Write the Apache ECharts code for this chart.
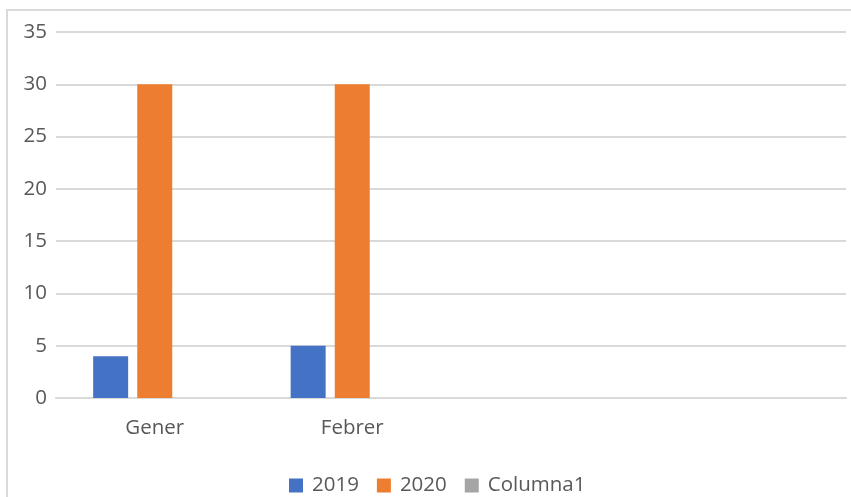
<!DOCTYPE html>
<html>
<head>
<meta charset="utf-8">
<script src="https://cdn.jsdelivr.net/npm/echarts@6/dist/echarts.min.js"></script>
<style>
  html, body { margin: 0; padding: 0; background: #fff; }
  #chart { width: 851px; height: 497px; }
</style>
</head>
<body>
<div id="chart"></div>
<script>
// Monthly counts, two years plus an empty spare column
const categories = ['Gener', 'Febrer', '', ''];
const values2019 = [4, 5, null, null];
const values2020 = [30, 30, null, null];
const valuesColumna1 = [null, null, null, null];
const yTicks = { min: 0, max: 35, interval: 5 };

const labelFont = { fontFamily: 'Open Sans', fontSize: 20.5, color: '#595959' };

const chart = echarts.init(document.getElementById('chart'), null, { renderer: 'canvas' });
chart.setOption({
  animation: false,
  backgroundColor: '#fff',
  graphic: [{
    type: 'rect',
    shape: { x: 7, y: 10, width: 900, height: 600 },
    style: { fill: 'none', stroke: '#d9d9d9', lineWidth: 2 },
    silent: true
  }],
  grid: { left: 56, right: 5, top: 32, bottom: 99 },
  legend: {
    top: 470,
    left: 284,
    icon: 'rect',
    itemWidth: 14,
    itemHeight: 14,
    itemGap: 18,
    textStyle: Object.assign({ padding: [0, 0, 0, 4] }, labelFont),
    data: ['2019', '2020', 'Columna1']
  },
  xAxis: {
    type: 'category',
    data: categories,
    axisLine: { lineStyle: { color: '#d9d9d9', width: 2 } },
    axisTick: { show: false },
    axisLabel: Object.assign({ margin: 20 }, labelFont)
  },
  yAxis: {
    type: 'value',
    min: yTicks.min,
    max: yTicks.max,
    interval: yTicks.interval,
    axisLine: { show: false },
    axisTick: { show: false },
    splitLine: { lineStyle: { color: '#d9d9d9', width: 2 } },
    axisLabel: Object.assign({ margin: 9 }, labelFont)
  },
  series: [
    { name: '2019', type: 'bar', data: values2019, barWidth: 35, barGap: '26%', itemStyle: { color: '#4472C4' } },
    { name: '2020', type: 'bar', data: values2020, barWidth: 35, barGap: '26%', itemStyle: { color: '#ED7D31' } },
    { name: 'Columna1', type: 'bar', data: valuesColumna1, barWidth: 35, barGap: '26%', itemStyle: { color: '#A5A5A5' } }
  ]
});
</script>
</body>
</html>
